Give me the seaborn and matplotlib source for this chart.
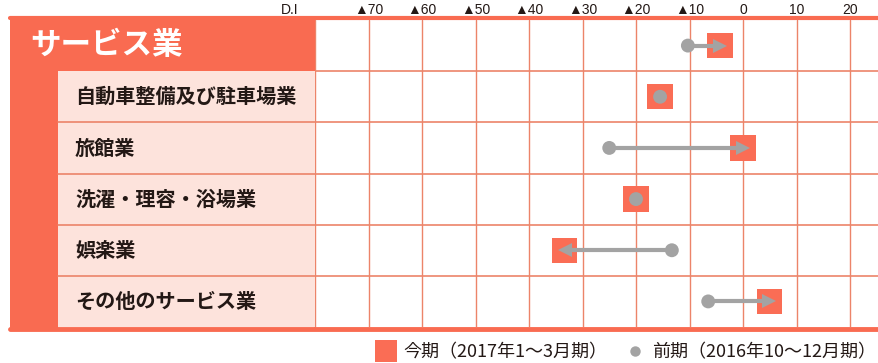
import numpy as np
import pandas as pd
import matplotlib
matplotlib.use('Agg')
import matplotlib.pyplot as plt
import seaborn as sns
from matplotlib.patches import Rectangle
from matplotlib.lines import Line2D

# ---- data ----
categories = ['サービス業', '自動車整備及び駐車場業', '旅館業', '洗濯・理容・浴場業', '娯楽業', 'その他のサービス業']
current = [-4.3, -15.5, 0.0, -20.0, -33.3, 4.9]
previous = [-10.3, -15.5, -25.0, -20.0, -13.3, -6.5]
tick_values = [-70, -60, -50, -40, -30, -20, -10, 0, 10, 20]
tick_labels = ['▲70', '▲60', '▲50', '▲40', '▲30', '▲20', '▲10', '0', '10', '20']
axis_label = 'D.I'
legend_labels = ['今期（2017年1〜3月期）', '前期（2016年10〜12月期）']

# ---- style ----
RED = '#f96b51'
SQ = '#fa6d55'
PINK = '#fde3dc'
GRID = '#ec8469'
GREY = '#a3a3a3'
DARK = '#231815'

W, H = 879, 363
sns.set_theme(style='white')
plt.rcParams['font.family'] = ['Noto Sans CJK JP', 'DejaVu Sans']

fig = plt.figure(figsize=(W / 100, H / 100), dpi=100)
fig.patch.set_facecolor('white')


def fx(px):
    return px / W


def fy(py):
    return 1 - py / H


ax_l, ax_r, ax_t, ax_b = 315, 879, 20, 327
ax = fig.add_axes([fx(ax_l), fy(ax_b), (ax_r - ax_l) / W, (ax_b - ax_t) / H])
ax.set_facecolor('white')

df = pd.DataFrame({'category': categories, 'current': current, 'previous': previous})
df['row'] = np.arange(len(df))
n = len(df)

# grid
ax.set_xlim(-80, -80 + (ax_r - ax_l) / 5.35)
ax.set_ylim(n - 0.5, -0.5)
ax.set_xticks(tick_values)
ax.set_xticks([-80], minor=True)
ax.xaxis.grid(True, which='both', color=GRID, lw=1.0, zorder=0)
ax.hlines(np.arange(0.5, n - 0.5, 1), -80, 40, color=GRID, lw=1.2, zorder=0.5)
ax.set_axisbelow(True)
for s in ax.spines.values():
    s.set_visible(False)
ax.spines['left'].set_visible(True)
ax.spines['left'].set_color(GRID)

ax.xaxis.tick_top()
ax.set_xticklabels(tick_labels, fontsize=10, color=DARK, family=['Liberation Sans', 'DejaVu Sans'])
ax.tick_params(axis='x', which='both', length=0, pad=2)
ax.set_yticks([])

# marks
sns.scatterplot(data=df, x='current', y='row', marker='s', s=330, color=SQ,
                edgecolor='none', linewidth=0, zorder=2, ax=ax, legend=False)
for _, r in df.iterrows():
    if r['previous'] != r['current']:
        ax.plot([r['previous'], r['current']], [r['row'], r['row']],
                color=GREY, lw=3, solid_capstyle='butt', zorder=3)
        head = '>' if r['current'] > r['previous'] else '<'
        ax.plot([r['current']], [r['row']], marker=head, markersize=10,
                color=GREY, markeredgewidth=0, linestyle='none', zorder=3.5)
sns.scatterplot(data=df, x='previous', y='row', marker='o', s=100, color=GREY,
                edgecolor='none', linewidth=0, zorder=4, ax=ax, legend=False)
ax.set_xlabel('')
ax.set_ylabel('')

# ---- left label table ----
row_h = (ax_b - ax_t) / n
bounds = [ax_t + i * row_h for i in range(n + 1)]
fig.add_artist(Rectangle((fx(10), fy(bounds[1])), fx(ax_l - 10), (bounds[1] - 17) / H,
                         transform=fig.transFigure, facecolor=RED, edgecolor='none', zorder=1))
fig.add_artist(Rectangle((fx(10), fy(330)), fx(48), (330 - bounds[1]) / H,
                         transform=fig.transFigure, facecolor=RED, edgecolor='none', zorder=1))
fig.add_artist(Rectangle((fx(58), fy(bounds[-1])), fx(ax_l - 58), (bounds[-1] - bounds[1]) / H,
                         transform=fig.transFigure, facecolor=PINK, edgecolor='none', zorder=1))
for b in bounds[2:-1]:
    fig.add_artist(Line2D([fx(58), fx(ax_l)], [fy(b), fy(b)], transform=fig.transFigure,
                          color=GRID, lw=1.2, zorder=2))

# borders
fig.add_artist(Line2D([fx(10), 1], [fy(18), fy(18)], transform=fig.transFigure,
                      color=RED, lw=3, zorder=3))
fig.add_artist(Line2D([fx(10), 1], [fy(328.5), fy(328.5)], transform=fig.transFigure,
                      color=RED, lw=3.5, zorder=3))

# labels
for i, cat in enumerate(categories):
    yc = (bounds[i] + bounds[i + 1]) / 2
    if i == 0:
        fig.text(fx(30), fy(yc - 1), cat, color='white', fontsize=22, fontweight='bold',
                 ha='left', va='center', zorder=4)
    else:
        fig.text(fx(75), fy(yc), cat, color=DARK, fontsize=14.5, fontweight='bold',
                 ha='left', va='center', zorder=4)

fig.text(fx(290), fy(16.5), axis_label, color=DARK, fontsize=10, ha='center', va='bottom',
         family=['Liberation Sans', 'DejaVu Sans'])

# legend
handles = [Line2D([], [], marker='s', linestyle='none', markersize=16, color=SQ, markeredgewidth=0),
           Line2D([], [], marker='o', linestyle='none', markersize=7.5, color=GREY, markeredgewidth=0)]
fig.legend(handles, legend_labels, loc='center left', bbox_to_anchor=(fx(374), fy(352)),
           ncol=2, frameon=False, fontsize=13, handletextpad=0.3, columnspacing=0.9,
           borderaxespad=0, borderpad=0, handlelength=1.3, labelcolor=DARK)

fig.savefig('out.png', dpi=100, facecolor='white')
